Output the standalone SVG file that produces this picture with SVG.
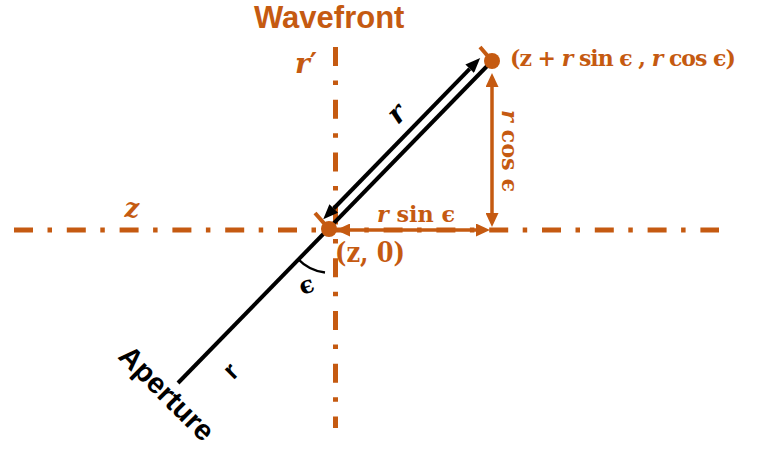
<svg xmlns="http://www.w3.org/2000/svg" width="762" height="455" viewBox="0 0 762 455">
<defs>
<style>
.axis{stroke:#C55A11;stroke-width:5;fill:none;stroke-dasharray:19 14.5 4.5 14.8}
.blk{stroke:#000;stroke-width:4;fill:none}
.org{stroke:#C55A11;stroke-width:3.5;fill:none}
.tick{stroke:#C55A11;stroke-width:4;fill:none}
.dot{fill:#C55A11}
.math{font-family:"DejaVu Serif","Liberation Serif",serif;font-weight:bold;fill:#C55A11}
.mathk{font-family:"DejaVu Serif","Liberation Serif",serif;font-weight:bold;fill:#000}
.sans{font-family:"Liberation Sans",Arial,sans-serif;font-weight:bold}
.it{font-style:italic}
</style>
<marker id="ab" markerUnits="userSpaceOnUse" markerWidth="15" markerHeight="12" viewBox="0 0 15 12" refX="0" refY="6" orient="auto-start-reverse"><path d="M0,0 L15,6 L0,12 z" fill="#000"/></marker>
<marker id="ao" markerUnits="userSpaceOnUse" markerWidth="14" markerHeight="13" viewBox="0 0 14 13" refX="0" refY="6.5" orient="auto-start-reverse"><path d="M0,0 L14,6.5 L0,13 z" fill="#C55A11"/></marker>
</defs>
<rect width="762" height="455" fill="#fff"/>
<g id="connectors">
<path class="axis" d="M14,230 H719"/>
<path class="axis" d="M335.5,47 V428"/>
<path class="blk" d="M178,383 L492,61"/>
<path class="blk" d="M333.7,208.5 L469.7,68.8" marker-start="url(#ab)" marker-end="url(#ab)"/>
<path class="org" d="M492,87 V213" marker-start="url(#ao)" marker-end="url(#ao)"/>
<path class="org" d="M350,230 H476" marker-start="url(#ao)" marker-end="url(#ao)"/>
<path d="M298,259 A44,44 0 0 0 325,272.5" stroke="#000" stroke-width="2.5" fill="none"/>
<path class="tick" d="M480,47 L492,61"/>
<path class="tick" d="M315,213 L329,229"/>
</g>
<g id="title">
<text class="sans" x="254" y="28" font-size="31" fill="#C55A11">Wavefront</text>
</g>
<g id="axis-r-label">
<text class="math" x="295" y="73" font-size="28"><tspan class="it">r</tspan>′</text>
</g>
<g id="axis-z-label">
<text class="math it" x="132" y="217" font-size="26" text-anchor="middle">z</text>
</g>
<g id="point-upper">
<circle class="dot" cx="492" cy="61" r="8"/>
<text class="math" x="510" y="66" font-size="22" letter-spacing="-1">(z + <tspan class="it">r</tspan> sin ϵ , <tspan class="it">r</tspan> cos ϵ)</text>
</g>
<g id="point-lower">
<circle class="dot" cx="329" cy="229" r="8"/>
<text class="math" x="335" y="262" font-size="28" textLength="70" lengthAdjust="spacingAndGlyphs">(z, 0)</text>
</g>
<g id="label-rsin">
<text class="math" x="377" y="222" font-size="22" textLength="78" lengthAdjust="spacingAndGlyphs"><tspan class="it">r</tspan> sin ϵ</text>
</g>
<g id="label-rcos">
<text class="math" transform="translate(502,110) rotate(90)" x="0" y="0" font-size="22" textLength="82" lengthAdjust="spacingAndGlyphs"><tspan class="it">r</tspan> cos ϵ</text>
</g>
<g id="label-r-top">
<text class="mathk it" transform="translate(398,115) rotate(-45)" x="0" y="7" font-size="28" text-anchor="middle">r</text>
</g>
<g id="label-epsilon">
<text class="mathk" transform="translate(307,287) rotate(-20)" x="0" y="6" font-size="24" text-anchor="middle">ϵ</text>
</g>
<g id="aperture">
<text class="sans" transform="translate(165,395) rotate(45)" x="0" y="7.3" font-size="29" text-anchor="middle" fill="#000">Aperture</text>
<text class="sans" transform="translate(232,372) rotate(-45)" x="0" y="7" font-size="26" text-anchor="middle" fill="#000">r</text>
</g>
</svg>
